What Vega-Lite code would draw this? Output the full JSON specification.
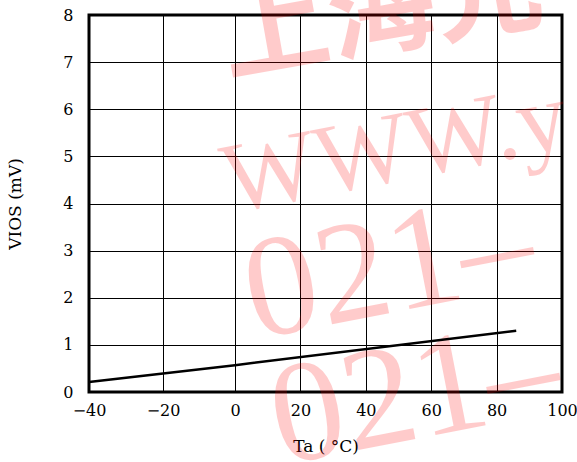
{
  "$schema": "https://vega.github.io/schema/vega-lite/v6.json",
  "width": 473,
  "height": 377,
  "autosize": {"type": "none"},
  "padding": {"left": 89, "top": 15, "right": 15, "bottom": 70},
  "background": "white",
  "config": {
    "view": {"stroke": "black", "strokeWidth": 3},
    "axis": {
      "grid": true,
      "gridColor": "black",
      "gridWidth": 1,
      "gridOpacity": 1,
      "domain": false,
      "ticks": false,
      "labelFlush": false,
      "labelFont": "DejaVu Serif",
      "labelFontSize": 16,
      "labelColor": "black",
      "titleFont": "DejaVu Serif",
      "titleFontSize": 17,
      "titleFontWeight": "normal",
      "titleColor": "black"
    }
  },
  "layer": [
    {
      "data": {"values": [{"t": "上海光", "x": -2, "y": 6.75}]},
      "mark": {"type": "text", "font": "Noto Sans CJK SC", "fontWeight": "bold", "fontSize": 108, "angle": -10, "align": "left", "baseline": "alphabetic", "color": "#ff0000", "opacity": 0.2},
      "encoding": {
        "x": {"field": "x", "type": "quantitative", "scale": {"domain": [-40, -20, 0, 100], "range": [0, 74, 146, 473]}},
        "y": {"field": "y", "type": "quantitative", "scale": {"domain": [0, 8]}},
        "text": {"field": "t"}
      }
    },
    {
      "data": {"values": [{"t": "WWW.y", "x": -1.5, "y": 3.8}]},
      "mark": {"type": "text", "font": "Liberation Serif", "fontSize": 100, "angle": -11, "align": "left", "baseline": "alphabetic", "color": "#ff0000", "opacity": 0.2},
      "encoding": {
        "x": {"field": "x", "type": "quantitative"},
        "y": {"field": "y", "type": "quantitative"},
        "text": {"field": "t"}
      }
    },
    {
      "data": {"values": [{"t": "021–", "x": 6, "y": 1.12}, {"t": "021–", "x": 14, "y": -1.55}]},
      "mark": {"type": "text", "font": "Liberation Serif", "fontSize": 145, "angle": -11, "align": "left", "baseline": "alphabetic", "color": "#ff0000", "opacity": 0.2},
      "encoding": {
        "x": {"field": "x", "type": "quantitative"},
        "y": {"field": "y", "type": "quantitative"},
        "text": {"field": "t"}
      }
    },
    {
      "data": {"values": [{"ta": -40, "v": 0.21}, {"ta": 0, "v": 0.57}, {"ta": 86, "v": 1.3}]},
      "mark": {"type": "line", "color": "black", "strokeWidth": 2.5},
      "encoding": {
        "x": {"field": "ta", "type": "quantitative", "scale": {"domain": [-40, -20, 0, 100], "range": [0, 74, 146, 473]},
              "axis": {"values": [-40, -20, 0, 20, 40, 60, 80, 100], "title": "Ta  ( °C)", "labelPadding": 10, "titlePadding": 20}},
        "y": {"field": "v", "type": "quantitative", "scale": {"domain": [0, 8]},
              "axis": {"values": [0, 1, 2, 3, 4, 5, 6, 7, 8], "title": "VIOS (mV)", "labelPadding": 16, "titlePadding": 38}}
      }
    }
  ]
}
